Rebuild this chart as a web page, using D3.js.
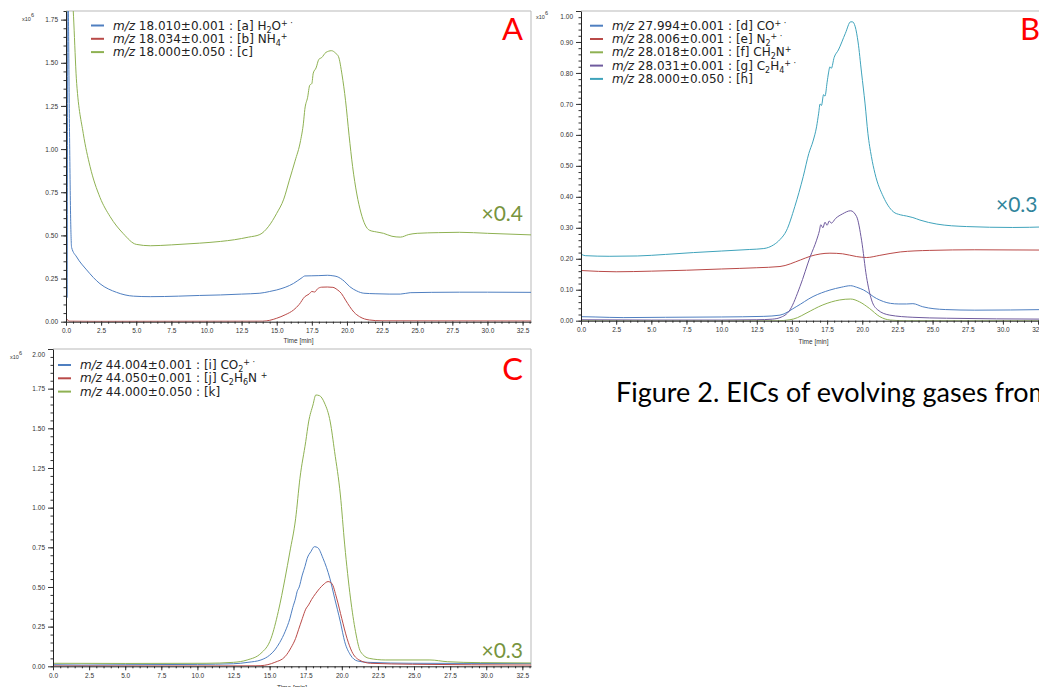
<!DOCTYPE html>
<html>
<head>
<meta charset="utf-8">
<script src="https://cdn.jsdelivr.net/npm/d3@7"></script>
<style>
body { margin: 0; background: #fff; overflow: hidden; }
svg { display: block; }
</style>
</head>
<body>
<script>
'use strict';

// time in min, intensity in x10^6 counts
var timeTicks = [0, 2.5, 5, 7.5, 10, 12.5, 15, 17.5, 20, 22.5, 25, 27.5, 30, 32.5];
var aTicks = [0, 0.25, 0.5, 0.75, 1, 1.25, 1.5, 1.75];
var bTicks = [0, 0.1, 0.2, 0.3, 0.4, 0.5, 0.6, 0.7, 0.8, 0.9, 1.0];
var cTicks = [0, 0.25, 0.5, 0.75, 1, 1.25, 1.5, 1.75, 2.0];

// panel A, m/z 18
var aH2O = [[0, 1.9], [0.07, 0.14], [0.14, 1.9], [0.25, 1.1], [0.33, 0.6], [0.4, 0.43], [0.76, 0.375],
    [1.47, 0.3], [2.42, 0.22], [3.6, 0.17], [4.8, 0.148], [6, 0.145], [8, 0.148], [9.5, 0.152],
    [11, 0.155], [12.5, 0.16], [13.8, 0.165], [14.5, 0.175], [15, 0.184], [16.2, 0.222], [16.8, 0.255],
    [17, 0.265], [17.5, 0.266], [18, 0.267], [18.6, 0.269], [19, 0.266], [19.3, 0.261], [19.8, 0.235],
    [20.2, 0.203], [20.7, 0.178], [21.2, 0.165], [22, 0.162], [23, 0.16], [23.8, 0.16], [24.5, 0.168],
    [26, 0.17], [28, 0.171], [30, 0.171], [33.1, 0.17]];
var aNH4 = [[0, 0], [0.1, 0.012], [0.2, 0.003], [2, 0.002], [14, 0.003], [14.5, 0.008], [15, 0.02],
    [15.6, 0.04], [16.2, 0.068], [16.6, 0.1], [17, 0.145], [17.3, 0.16], [17.5, 0.175], [17.7, 0.172],
    [17.9, 0.19], [18.2, 0.2], [18.6, 0.201], [19, 0.199], [19.3, 0.186], [19.6, 0.164], [19.9, 0.125],
    [20.2, 0.087], [20.5, 0.055], [20.9, 0.029], [21.6, 0.01], [22.5, 0.005], [33.1, 0.004]];
var aTotal18 = [[0, 0.6], [0.04, 1.9], [0.4, 1.9], [0.76, 1.38], [1.23, 1.09], [1.71, 0.9], [2.42, 0.72],
    [3.13, 0.61], [4.08, 0.51], [5, 0.448], [6, 0.44], [7.5, 0.445], [9.5, 0.455], [11, 0.465],
    [12, 0.475], [13, 0.49], [13.8, 0.505], [14.4, 0.55], [15, 0.628], [15.5, 0.71], [15.9, 0.82],
    [16.3, 0.93], [16.7, 1.05], [16.9, 1.15], [17, 1.23], [17.2, 1.3], [17.35, 1.37], [17.5, 1.38],
    [17.6, 1.44], [17.8, 1.47], [18, 1.52], [18.2, 1.53], [18.5, 1.56], [18.9, 1.57], [19.2, 1.555],
    [19.4, 1.535], [19.65, 1.43], [19.9, 1.28], [20.15, 1.08], [20.4, 0.9], [20.7, 0.74], [21, 0.63],
    [21.3, 0.56], [21.6, 0.53], [22.1, 0.52], [22.6, 0.512], [23.2, 0.495], [23.8, 0.49], [24.4, 0.505],
    [25, 0.512], [26.5, 0.516], [28, 0.518], [30, 0.512], [33.1, 0.503]];

// panel B, m/z 28
var bCO = [[0, 0.013], [1, 0.012], [3, 0.01], [6, 0.011], [10, 0.012], [13, 0.014], [14.15, 0.018],
    [15.3, 0.045], [16.5, 0.078], [17.7, 0.099], [18.5, 0.108], [19.17, 0.113], [19.6, 0.108],
    [20.1, 0.099], [21, 0.072], [22, 0.056], [22.6, 0.054], [23.15, 0.054], [23.6, 0.055], [24.3, 0.045],
    [25.9, 0.036], [28, 0.034], [33.1, 0.036]];
var bN2 = [[0, 0.162], [2.5, 0.158], [5, 0.16], [7.5, 0.163], [10, 0.167], [12.5, 0.171], [14.15, 0.175],
    [15.6, 0.196], [16.3, 0.208], [17.7, 0.218], [18.6, 0.216], [19.6, 0.207], [20.3, 0.204],
    [21.25, 0.211], [22.7, 0.222], [24.8, 0.227], [28, 0.229], [33.1, 0.228]];
var bCH2N = [[0, 0], [14, 0], [14.86, 0.003], [15.4, 0.01], [16, 0.024], [17.2, 0.051], [18.4, 0.067],
    [19.17, 0.07], [19.8, 0.061], [20.5, 0.04], [21.25, 0.013], [22, 0.002], [23, 0], [33.1, 0]];
var bC2H4 = [[0, 0.003], [5, 0.002], [10, 0.002], [12.5, 0.003], [13.6, 0.005], [14.15, 0.01],
    [14.86, 0.035], [15.57, 0.11], [16.3, 0.207], [16.75, 0.26], [16.95, 0.29], [17.05, 0.31],
    [17.2, 0.3], [17.35, 0.318], [17.5, 0.308], [17.65, 0.322], [17.8, 0.315], [18.1, 0.33], [18.6, 0.345],
    [19.17, 0.355], [19.6, 0.336], [19.95, 0.26], [20.3, 0.142], [20.66, 0.067], [21.1, 0.035],
    [21.96, 0.018], [23.6, 0.011], [26, 0.008], [33.1, 0.005]];
var bTotal28 = [[0, 0.215], [0.3, 0.21], [2, 0.208], [4, 0.209], [6, 0.214], [8, 0.22], [10, 0.225],
    [12, 0.23], [13, 0.233], [13.7, 0.245], [14.15, 0.262], [14.6, 0.29], [15.2, 0.368], [15.8, 0.465],
    [16.2, 0.54], [16.5, 0.58], [16.75, 0.626], [16.9, 0.67], [17, 0.7], [17.1, 0.695], [17.25, 0.73],
    [17.35, 0.725], [17.5, 0.77], [17.6, 0.8], [17.7, 0.82], [17.8, 0.815], [18, 0.85], [18.3, 0.874],
    [18.8, 0.928], [19.17, 0.965], [19.3, 0.965], [19.5, 0.949], [19.7, 0.9], [19.95, 0.8], [20.2, 0.7],
    [20.4, 0.605], [20.65, 0.53], [20.9, 0.476], [21.5, 0.4], [22.2, 0.352], [22.7, 0.342],
    [23.15, 0.338], [23.6, 0.333], [24.1, 0.325], [25.3, 0.312], [27.4, 0.304], [30.7, 0.301],
    [33.1, 0.303]];

// panel C, m/z 44
var cCO2 = [[0, 0.01], [2, 0.008], [5, 0.01], [10, 0.012], [12.5, 0.016], [13.5, 0.025], [14.4, 0.04],
    [15, 0.07], [15.36, 0.103], [15.7, 0.15], [16.07, 0.218], [16.4, 0.3], [16.6, 0.37], [16.8, 0.43],
    [16.9, 0.47], [17.05, 0.5], [17.26, 0.575], [17.45, 0.63], [17.6, 0.68], [17.86, 0.723],
    [18.1, 0.754], [18.33, 0.748], [18.7, 0.68], [19.17, 0.555], [19.5, 0.43], [19.9, 0.28],
    [20.2, 0.155], [20.6, 0.071], [21.07, 0.034], [21.8, 0.025], [24.9, 0.019], [33.1, 0.017]];
var cC2H6N = [[0, 0.002], [10, 0.002], [14, 0.003], [14.4, 0.004], [15.36, 0.025], [16.07, 0.061],
    [16.5, 0.12], [16.8, 0.176], [17, 0.23], [17.26, 0.3], [17.5, 0.36], [17.7, 0.387], [17.9, 0.42],
    [18.2, 0.46], [18.7, 0.513], [19.05, 0.534], [19.3, 0.523], [19.64, 0.43], [20, 0.3], [20.36, 0.176],
    [20.7, 0.092], [21.2, 0.04], [22, 0.019], [24.9, 0.013], [33.1, 0.008]];
var cTotal44 = [[0, 0.019], [5, 0.018], [10.6, 0.019], [12.5, 0.025], [13.45, 0.04], [14.4, 0.082],
    [15.1, 0.176], [15.6, 0.345], [16.07, 0.555], [16.4, 0.72], [16.8, 0.93], [17.1, 1.185],
    [17.5, 1.416], [17.7, 1.54], [18, 1.647], [18.2, 1.71], [18.45, 1.706], [18.8, 1.66], [19.2, 1.54],
    [19.5, 1.353], [19.9, 1.08], [20.2, 0.765], [20.6, 0.43], [20.95, 0.218], [21.3, 0.092], [21.9, 0.05],
    [23, 0.04], [26.1, 0.04], [27.3, 0.029], [29.6, 0.023], [33.1, 0.021]];

// legend texts: [text, style] pieces
var aLabels = [
    [['m/z', 'i'], [' 18.010±0.001 : [a] H', ''], ['2', 'sub'], ['O', ''], ['+ ·', 'sup']],
    [['m/z', 'i'], [' 18.034±0.001 : [b] NH', ''], ['4', 'sub'], ['+', 'sup']],
    [['m/z', 'i'], [' 18.000±0.050 : [c]', '']]
];
var bLabels = [
    [['m/z', 'i'], [' 27.994±0.001 : [d] CO', ''], ['+ ·', 'sup']],
    [['m/z', 'i'], [' 28.006±0.001 : [e] N', ''], ['2', 'sub'], ['+ ·', 'sup']],
    [['m/z', 'i'], [' 28.018±0.001 : [f] CH', ''], ['2', 'sub'], ['N', ''], ['+', 'sup']],
    [['m/z', 'i'], [' 28.031±0.001 : [g] C', ''], ['2', 'sub'], ['H', ''], ['4', 'sub'], ['+ ·', 'sup']],
    [['m/z', 'i'], [' 28.000±0.050 : [h]', '']]
];
var cLabels = [
    [['m/z', 'i'], [' 44.004±0.001 : [i] CO', ''], ['2', 'sub'], ['+ ·', 'sup']],
    [['m/z', 'i'], [' 44.050±0.001 : [j] C', ''], ['2', 'sub'], ['H', ''], ['6', 'sub'], ['N ', ''], ['+', 'sup']],
    [['m/z', 'i'], [' 44.000±0.050 : [k]', '']]
];

var blue = '#4f7fc0', red = '#b94a48', green = '#8eb152', purple = '#6f5b9e', teal = '#3fa3bb';

var panels = [
    { left: 66, right: 531, top: 11, bottom: 321.7, yMax: 1.8, yTicks: aTicks, yMinor: 0.05,
      series: [aH2O, aNH4, aTotal18], colors: [blue, red, green], labels: aLabels,
      legX: 91, legY: 25.5, letter: 'A', letterX: 523, letterAnchor: 'end', letterY: 40,
      scale: '×0.4', scaleX: 523, scaleY: 220.5, scaleAnchor: 'end', scaleColor: '#77943e',
      unitX: 22, unitY: 21, titleY: 343 },
    { left: 581, right: 1046.5, top: 11, bottom: 320.7, yMax: 1.0, yTicks: bTicks, yMinor: 0.02,
      series: [bCO, bN2, bCH2N, bC2H4, bTotal28], colors: [blue, red, green, purple, teal], labels: bLabels,
      legX: 590, legY: 25.7, letter: 'B', letterX: 1020, letterAnchor: 'start', letterY: 40,
      scale: '×0.3', scaleX: 996, scaleY: 211.7, scaleAnchor: 'start', scaleColor: '#31849b',
      unitX: 536, unitY: 19, titleY: 344 },
    { left: 53, right: 531, top: 349, bottom: 666.3, yMax: 2.0, yTicks: cTicks, yMinor: 0.05,
      series: [cCO2, cC2H6N, cTotal44], colors: [blue, red, green], labels: cLabels,
      legX: 58, legY: 365, letter: 'C', letterX: 523, letterAnchor: 'end', letterY: 380,
      scale: '×0.3', scaleX: 523, scaleY: 658.3, scaleAnchor: 'end', scaleColor: '#77943e',
      unitX: 10, unitY: 359, titleY: 690 }
];

var svg = d3.select('body').append('svg')
    .attr('width', 1039)
    .attr('height', 687)
    .style('background', '#fff');

function richText (text, parts, small) {
    var shift = 0;
    parts.forEach(function (p) {
        var t = text.append('tspan').text(p[0]);
        var want = p[1] === 'sub' ? 3 : (p[1] === 'sup' ? -4 : 0);
        if (want !== shift) { t.attr('dy', want - shift); shift = want; }
        if (p[1] === 'sub' || p[1] === 'sup') { t.attr('font-size', small); }
        if (p[1] === 'i') { t.attr('font-style', 'italic'); }
    });
}

function styleAxis (sel) {
    sel.select('.domain').attr('stroke', '#222');
    sel.selectAll('.tick line').attr('stroke', '#333');
    sel.selectAll('.tick text')
        .attr('fill', '#333')
        .style('font-family', 'Liberation Sans, Arial, sans-serif')
        .style('font-size', '6.5px');
}

function drawPanel (p, idx) {
    var g = svg.append('g');
    var x = d3.scaleLinear().domain([0, 33.1]).range([p.left, p.right]);
    var y = d3.scaleLinear().domain([0, p.yMax]).range([p.bottom, p.top]);

    g.append('path')
        .attr('d', 'M' + p.left + ',' + p.top + 'H' + p.right + 'V' + p.bottom)
        .attr('fill', 'none')
        .attr('stroke', '#b9b9b9');

    svg.append('clipPath').attr('id', 'clip' + idx)
      .append('rect')
        .attr('x', p.left).attr('y', p.top)
        .attr('width', p.right - p.left).attr('height', p.bottom - p.top);

    var line = d3.line()
        .x(function (d) { return x(d[0]); })
        .y(function (d) { return y(d[1]); })
        .curve(d3.curveMonotoneX);

    g.append('g').attr('clip-path', 'url(#clip' + idx + ')')
      .selectAll('path')
        .data(p.series)
      .enter().append('path')
        .attr('d', line)
        .attr('fill', 'none')
        .attr('stroke', function (d, i) { return p.colors[i]; })
        .attr('stroke-width', 1);

    // minor ticks
    g.append('g')
        .attr('transform', 'translate(0,' + p.bottom + ')')
        .call(d3.axisBottom(x).tickValues(d3.range(0, 33.01, 0.5)).tickSize(2).tickFormat(''))
        .call(function (s) { s.select('.domain').remove(); s.selectAll('line').attr('stroke', '#333'); });
    g.append('g')
        .attr('transform', 'translate(' + p.left + ',0)')
        .call(d3.axisLeft(y).tickValues(d3.range(0, p.yMax + 1e-9, p.yMinor)).tickSize(2.5).tickFormat(''))
        .call(function (s) { s.select('.domain').remove(); s.selectAll('line').attr('stroke', '#333'); });

    g.append('g')
        .attr('transform', 'translate(0,' + p.bottom + ')')
        .call(d3.axisBottom(x).tickValues(timeTicks).tickSize(4).tickSizeOuter(0).tickPadding(3)
            .tickFormat(d3.format('.1f')))
        .call(styleAxis);

    g.append('g')
        .attr('transform', 'translate(' + p.left + ',0)')
        .call(d3.axisLeft(y).tickValues(p.yTicks).tickSize(5).tickSizeOuter(0).tickPadding(3)
            .tickFormat(d3.format('.2f')))
        .call(styleAxis)
        .call(function (s) {
            s.selectAll('.tick text').filter(function (d) { return Math.abs(d - p.yMax) < 1e-9; })
                .attr('dy', '0.32em').attr('y', 5);
        });

    // x10^6 unit
    var u = g.append('text')
        .attr('x', p.unitX).attr('y', p.unitY)
        .attr('fill', '#333')
        .style('font-family', 'Liberation Sans, Arial, sans-serif')
        .style('font-size', '5.5px');
    richText(u, [['x10', ''], ['6', 'sup']], '5.5px');

    g.append('text')
        .attr('x', (p.left + Math.min(p.right, 1046)) / 2)
        .attr('y', p.titleY)
        .attr('text-anchor', 'middle')
        .attr('fill', '#333')
        .style('font-family', 'Liberation Sans, Arial, sans-serif')
        .style('font-size', '6.5px')
        .text('Time [min]');

    // legend
    var leg = g.append('g');
    p.labels.forEach(function (lab, i) {
        var cy = p.legY + i * 13.3;
        leg.append('line')
            .attr('x1', p.legX).attr('x2', p.legX + 13)
            .attr('y1', cy).attr('y2', cy)
            .attr('stroke', p.colors[i])
            .attr('stroke-width', 2);
        var t = leg.append('text')
            .attr('x', p.legX + 22).attr('y', cy + 4)
            .attr('fill', '#222')
            .style('font-family', 'DejaVu Sans, Verdana, sans-serif')
            .style('font-size', '12px');
        richText(t, lab, '8px');
    });

    g.append('text')
        .attr('x', p.letterX).attr('y', p.letterY)
        .attr('text-anchor', p.letterAnchor)
        .attr('fill', '#ff0000')
        .style('font-family', 'Lato, sans-serif')
        .style('font-size', '31px')
        .text(p.letter);

    g.append('text')
        .attr('x', p.scaleX).attr('y', p.scaleY)
        .attr('text-anchor', p.scaleAnchor)
        .attr('fill', p.scaleColor)
        .style('font-family', 'Lato, sans-serif')
        .style('font-size', '21px')
        .text(p.scale);
}

panels.forEach(drawPanel);

svg.append('text')
    .attr('x', 616).attr('y', 402)
    .attr('fill', '#000')
    .style('font-family', 'Lato, sans-serif')
    .style('font-size', '27px')
    .text('Figure 2. EICs of evolving gases from');
</script>
</body>
</html>
